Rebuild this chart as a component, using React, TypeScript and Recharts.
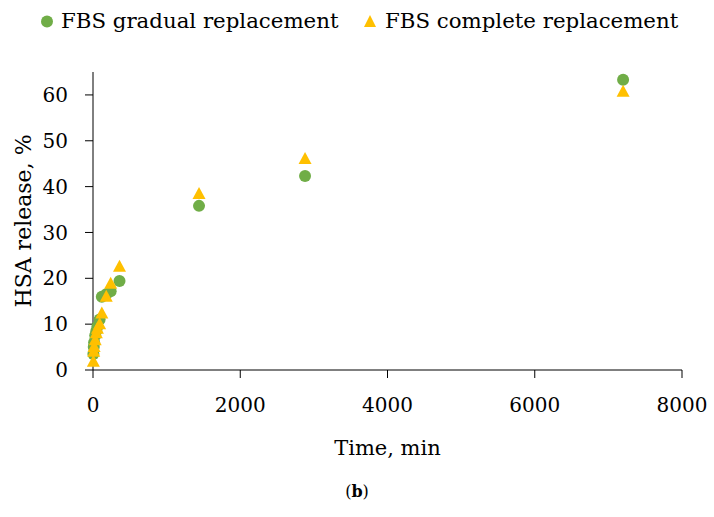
import { ScatterChart, Scatter, XAxis, YAxis } from 'recharts';

// sampling times (min) and HSA release (%)
const timeMin = [5, 10, 15, 30, 45, 60, 90, 120, 180, 240, 360, 1440, 2880, 7200];
const gradual = [3.5, 5, 6, 7.5, 8.5, 9.5, 11, 16, 16.5, 17.2, 19.4, 35.8, 42.3, 63.3];
const complete = [1.8, 4, 5, 6.5, 8, 9, 10, 12.3, 16, 18.8, 22.5, 38.4, 46.0, 60.7];

const xTicks = [0, 2000, 4000, 6000, 8000];
const yTicks = [0, 10, 20, 30, 40, 50, 60];

const GREEN = '#70AD47';
const GOLD = '#FFC000';
const FONT = '"DejaVu Serif", serif';

const gradualData = timeMin.map((t, i) => ({ t, v: gradual[i] }));
const completeData = timeMin.map((t, i) => ({ t, v: complete[i] }));

const Dot = (p: any) => <circle cx={p.cx} cy={p.cy} r={6} fill={GREEN} />;
const Tri = (p: any) => (
  <polygon
    points={`${p.cx},${p.cy - 7} ${p.cx + 6.5},${p.cy + 5} ${p.cx - 6.5},${p.cy + 5}`}
    fill={GOLD}
  />
);

// legend drawn as an overlay so it doesn't push the plot area down
function LegendRow() {
  const txt = { position: 'absolute' as const, top: 10, lineHeight: '21px', fontSize: 21.3, fontFamily: FONT, color: '#000', whiteSpace: 'nowrap' as const };
  return (
    <div style={{ position: 'absolute', left: 0, top: 0, width: 714, height: 40 }}>
      <svg width={714} height={40} style={{ position: 'absolute', left: 0, top: 0 }}>
        <circle cx={47} cy={21.5} r={6} fill={GREEN} />
        <polygon points="370,15 376,27 364,27" fill={GOLD} />
      </svg>
      <span style={{ ...txt, left: 61 }}>FBS gradual replacement</span>
      <span style={{ ...txt, left: 385 }}>FBS complete replacement</span>
    </div>
  );
}

export default function App() {
  return (
    <div style={{ position: 'absolute', left: 0, top: 0, width: 714, height: 517, background: '#fff', fontFamily: FONT }}>
      <ScatterChart width={714} height={517} margin={{ top: 72, right: 32, left: 0, bottom: 57 }} style={{ fontFamily: FONT }}>
        <XAxis
          type="number"
          dataKey="t"
          domain={[0, 8000]}
          ticks={xTicks}
          stroke="#000"
          tickSize={8}
          tickMargin={20}
          height={90}
          tick={{ fill: '#000', fontSize: 20, fontFamily: FONT }}
          label={{ value: 'Time, min', position: 'insideBottom', offset: 5, fill: '#000', fontSize: 21, fontFamily: FONT }}
        />
        <YAxis
          type="number"
          dataKey="v"
          domain={[0, 65]}
          ticks={yTicks}
          stroke="#000"
          tickSize={8}
          tickMargin={17}
          width={93}
          tick={{ fill: '#000', fontSize: 20, fontFamily: FONT }}
          label={{ value: 'HSA release, %', angle: -90, position: 'insideLeft', offset: 23, fill: '#000', fontSize: 22, fontFamily: FONT, style: { textAnchor: 'middle' } }}
        />
        <Scatter name="FBS gradual replacement" data={gradualData} shape={Dot} isAnimationActive={false} />
        <Scatter name="FBS complete replacement" data={completeData} shape={Tri} isAnimationActive={false} />
      </ScatterChart>
      <LegendRow />
      <div style={{ position: 'absolute', left: 0, width: 714, top: 482, textAlign: 'center', fontFamily: FONT, fontSize: 16, lineHeight: '20px' }}>
        (<b>b</b>)
      </div>
    </div>
  );
}
